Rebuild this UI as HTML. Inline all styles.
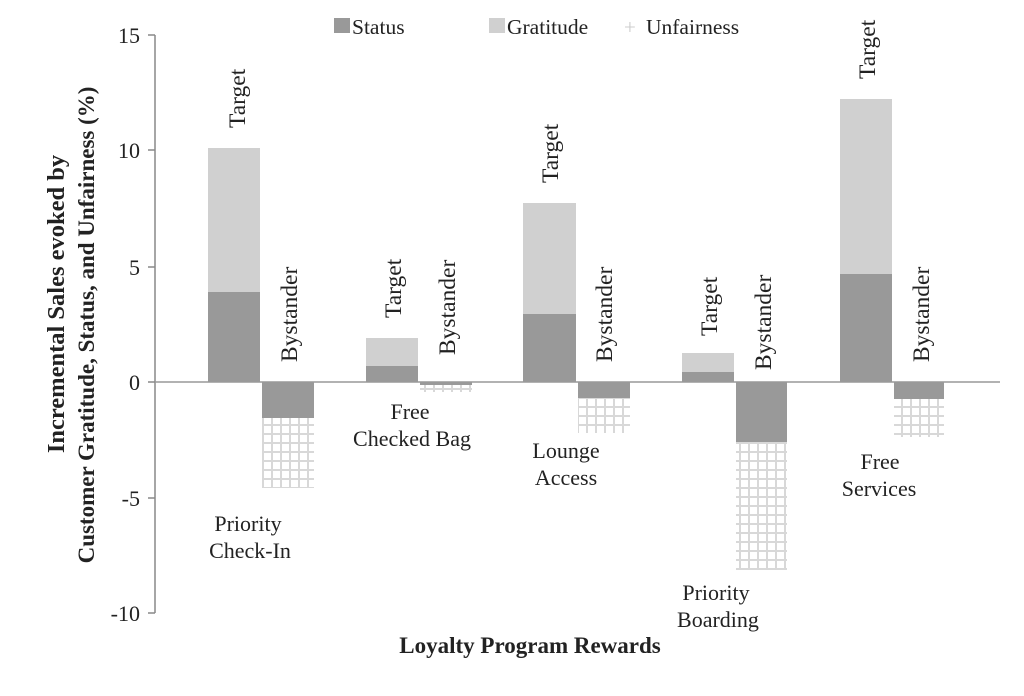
<!DOCTYPE html>
<html><head><style>body{margin:0;background:#fff}svg{display:block}</style></head><body>
<svg width="1024" height="696" xmlns="http://www.w3.org/2000/svg" font-family="Liberation Serif, serif" fill="#222">
<defs>
<pattern id="g" width="9" height="9" patternUnits="userSpaceOnUse" x="1" y="1">
<rect width="9" height="9" fill="#fff"/>
<rect x="0" y="0" width="9" height="2" fill="#d8d8d8"/>
<rect x="0" y="0" width="2" height="9" fill="#d8d8d8"/>
</pattern>
</defs>
<g stroke="#888" stroke-width="1.5">
<line x1="155" y1="35" x2="155" y2="613"/>
<line x1="148" y1="35" x2="155" y2="35"/>
<line x1="148" y1="150" x2="155" y2="150"/>
<line x1="148" y1="267" x2="155" y2="267"/>
<line x1="148" y1="382" x2="155" y2="382"/>
<line x1="148" y1="498" x2="155" y2="498"/>
<line x1="148" y1="613" x2="155" y2="613"/>
</g>
<g font-size="22" text-anchor="end">
<text x="140" y="43">15</text><text x="140" y="158">10</text><text x="140" y="275">5</text>
<text x="140" y="390">0</text><text x="140" y="506">-5</text><text x="140" y="621">-10</text>
</g>
<g font-weight="bold" text-anchor="middle">
<text font-size="24.5" transform="translate(64,304) rotate(-90)">Incremental Sales evoked by</text>
<text font-size="23" transform="translate(94,325) rotate(-90)">Customer Gratitude, Status, and Unfairness (%)</text>
<text font-size="23" x="530" y="653">Loyalty Program Rewards</text>
</g>
<rect x="334" y="18" width="16" height="15" fill="#999"/>
<text x="352" y="34" font-size="21.5">Status</text>
<rect x="489" y="18" width="16" height="15" fill="#d0d0d0"/>
<text x="507" y="34" font-size="21.5">Gratitude</text>
<text x="624" y="34" font-size="21" fill="#ccc">+</text>
<text x="646" y="34" font-size="21.5">Unfairness</text>
<g>
<rect x="208" y="148" width="52" height="144" fill="#d0d0d0"/><rect x="208" y="292" width="52" height="90" fill="#999"/>
<rect x="262" y="382" width="52" height="36" fill="#999"/><rect x="262" y="418" width="52" height="70" fill="url(#g)"/>
<rect x="366" y="338" width="52" height="28" fill="#d0d0d0"/><rect x="366" y="366" width="52" height="16" fill="#999"/>
<rect x="420" y="382" width="52" height="3" fill="#999"/><rect x="420" y="385" width="52" height="7" fill="url(#g)"/>
<rect x="523" y="203" width="53" height="111" fill="#d0d0d0"/><rect x="523" y="314" width="53" height="68" fill="#999"/>
<rect x="578" y="382" width="52" height="16" fill="#999"/><rect x="578" y="398" width="52" height="35" fill="url(#g)"/>
<rect x="682" y="353" width="52" height="19" fill="#d0d0d0"/><rect x="682" y="372" width="52" height="10" fill="#999"/>
<rect x="736" y="382" width="51" height="60" fill="#999"/><rect x="736" y="442" width="51" height="128" fill="url(#g)"/>
<rect x="840" y="99" width="52" height="175" fill="#d0d0d0"/><rect x="840" y="274" width="52" height="108" fill="#999"/>
<rect x="894" y="382" width="50" height="17" fill="#999"/><rect x="894" y="399" width="50" height="38" fill="url(#g)"/>
</g>
<line x1="155" y1="382" x2="1000" y2="382" stroke="#999" stroke-width="1.5"/>
<g font-size="23.5">
<text transform="translate(245,128) rotate(-90)">Target</text>
<text transform="translate(297,362) rotate(-90)">Bystander</text>
<text transform="translate(401,318) rotate(-90)">Target</text>
<text transform="translate(455,355) rotate(-90)">Bystander</text>
<text transform="translate(558,183) rotate(-90)">Target</text>
<text transform="translate(612,362) rotate(-90)">Bystander</text>
<text transform="translate(717,336) rotate(-90)">Target</text>
<text transform="translate(771,370) rotate(-90)">Bystander</text>
<text transform="translate(875,79) rotate(-90)">Target</text>
<text transform="translate(929,362) rotate(-90)">Bystander</text>
</g>
<g font-size="22" text-anchor="middle">
<text x="248" y="531">Priority</text><text x="250" y="558">Check-In</text>
<text x="410" y="419">Free</text><text x="412" y="446">Checked Bag</text>
<text x="566" y="458">Lounge</text><text x="566" y="485">Access</text>
<text x="716" y="600">Priority</text><text x="718" y="627">Boarding</text>
<text x="880" y="469">Free</text><text x="879" y="496">Services</text>
</g>
</svg>
</body></html>
